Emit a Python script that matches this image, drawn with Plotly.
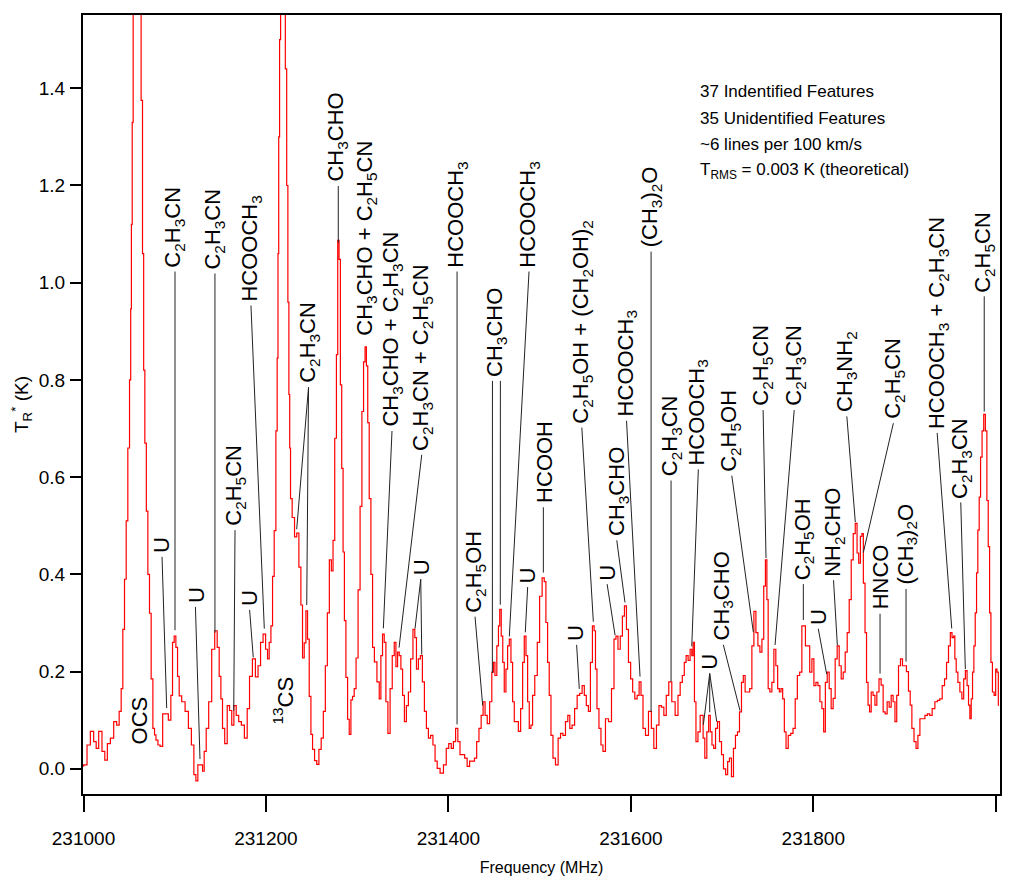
import numpy as np
import plotly.graph_objects as go

# ---------------- spectrum ----------------
freq_mhz = [
    230998.5, 231002.0, 231005.7, 231009.3, 231013.0, 231014.8, 231018.5, 231022.0, 231024.7, 231027.6,
    231031.3, 231034.9, 231037.8, 231040.4, 231042.2, 231044.0, 231045.9, 231047.7, 231049.5, 231051.4,
    231052.1, 231052.9, 231053.9, 231055.0, 231057.0, 231059.0, 231061.0, 231062.5, 231063.8, 231065.6,
    231066.3, 231068.2, 231069.6, 231071.5, 231073.2, 231075.1, 231077.0, 231078.7, 231080.2, 231083.0,
    231085.0, 231088.6, 231091.2, 231094.8, 231096.7, 231098.5, 231100.3, 231102.2, 231104.0, 231105.8,
    231109.5, 231113.2, 231116.8, 231119.7, 231122.3, 231124.1, 231126.6, 231129.6, 231131.4, 231133.2,
    231135.8, 231138.7, 231142.4, 231145.3, 231147.8, 231149.7, 231151.5, 231153.3, 231156.3, 231158.8,
    231161.4, 231163.6, 231166.1, 231168.7, 231171.6, 231174.5, 231178.2, 231180.7, 231183.3, 231187.0,
    231189.9, 231192.8, 231195.4, 231198.3, 231200.9, 231202.6, 231204.5, 231206.4, 231208.1, 231210.0,
    231211.8, 231212.8, 231213.6, 231214.4, 231215.5, 231216.6, 231218.5, 231220.5, 231222.0, 231223.5,
    231224.6, 231225.7, 231226.4, 231227.5, 231230.0, 231232.7, 231234.8, 231237.4, 231239.2, 231241.0,
    231242.9, 231244.7, 231246.5, 231248.4, 231250.2, 231252.0, 231254.6, 231256.8, 231259.3, 231261.8,
    231264.0, 231266.2, 231268.4, 231270.6, 231272.8, 231274.3, 231276.5, 231278.0, 231279.4, 231280.9,
    231282.3, 231283.8, 231285.3, 231286.7, 231288.6, 231290.4, 231292.2, 231294.1, 231295.8, 231297.7,
    231299.9, 231302.1, 231304.3, 231306.1, 231307.9, 231309.4, 231310.9, 231312.3, 231314.1, 231316.0,
    231317.8, 231320.0, 231323.3, 231325.1, 231326.9, 231328.7, 231330.6, 231332.4, 231335.0, 231337.2,
    231339.7, 231341.6, 231343.4, 231345.2, 231347.0, 231348.9, 231350.7, 231352.9, 231355.0, 231357.3,
    231359.9, 231362.4, 231364.0, 231366.0, 231368.2, 231370.4, 231372.6, 231374.8, 231377.0, 231379.2,
    231381.8, 231384.3, 231386.5, 231389.0, 231392.8, 231396.4, 231398.9, 231401.9, 231404.4, 231406.6,
    231409.2, 231411.5, 231413.9, 231416.5, 231419.1, 231422.0, 231424.5, 231427.4, 231429.8, 231432.2,
    231434.8, 231437.0, 231439.1, 231441.3, 231443.9, 231446.5, 231448.7, 231450.1, 231452.0, 231454.2,
    231455.6, 231457.0, 231458.9, 231460.3, 231462.2, 231464.0, 231465.8, 231467.7, 231469.5, 231471.3,
    231473.2, 231475.5, 231477.9, 231480.5, 231482.3, 231484.1, 231486.0, 231487.7, 231489.6, 231491.4,
    231493.2, 231496.2, 231498.7, 231501.3, 231504.2, 231505.9, 231507.9, 231509.6, 231511.5, 231513.4,
    231515.9, 231518.9, 231521.7, 231524.2, 231526.9, 231529.8, 231532.0, 231534.2, 231537.0, 231539.7,
    231542.6, 231545.2, 231548.0, 231550.0, 231552.4, 231554.6, 231556.8, 231559.0, 231560.5, 231562.0,
    231563.8, 231566.3, 231568.2, 231570.7, 231573.7, 231577.3, 231580.3, 231582.8, 231584.6, 231587.2,
    231589.6, 231591.9, 231594.1, 231596.3, 231598.5, 231601.1, 231602.9, 231605.8, 231608.0, 231610.2,
    231612.1, 231614.6, 231617.5, 231621.2, 231623.8, 231626.6, 231629.6, 231632.1, 231634.8, 231637.6,
    231640.1, 231643.1, 231646.7, 231650.4, 231653.0, 231655.2, 231657.7, 231659.5, 231661.7, 231663.9,
    231666.1, 231667.6, 231669.0, 231670.5, 231672.3, 231674.9, 231677.1, 231678.5, 231680.0, 231682.2,
    231684.4, 231686.2, 231688.0, 231689.9, 231691.8, 231693.9, 231696.1, 231698.3, 231700.5, 231702.6,
    231705.3, 231707.0, 231709.2, 231711.4, 231713.6, 231715.8, 231718.0, 231720.2, 231722.4, 231724.2,
    231726.4, 231729.0, 231731.6, 231733.8, 231736.0, 231738.2, 231740.4, 231742.6, 231744.8, 231746.6,
    231748.5, 231749.8, 231751.3, 231753.5, 231755.7, 231757.9, 231760.0, 231761.9, 231763.7, 231765.5,
    231767.4, 231769.2, 231771.1, 231774.0, 231776.5, 231779.1, 231781.3, 231783.8, 231786.4, 231788.6,
    231790.5, 231792.3, 231794.8, 231797.4, 231799.6, 231801.8, 231804.0, 231806.2, 231808.4, 231810.5,
    231812.3, 231814.2, 231816.4, 231818.5, 231820.7, 231822.9, 231825.1, 231827.3, 231829.5, 231831.7,
    231833.9, 231836.1, 231838.3, 231840.5, 231842.7, 231844.9, 231847.1, 231848.9, 231850.7, 231852.6,
    231854.0, 231855.8, 231857.7, 231859.1, 231861.0, 231862.4, 231864.6, 231866.6, 231868.6, 231870.8,
    231873.3, 231875.5, 231877.7, 231879.9, 231882.1, 231884.3, 231886.5, 231888.5, 231890.6, 231892.4,
    231894.5, 231896.7, 231898.9, 231901.1, 231903.2, 231905.5, 231907.0, 231909.2, 231911.7, 231913.6,
    231915.8, 231918.0, 231921.0, 231923.8, 231926.4, 231928.9, 231931.8, 231934.8, 231937.4, 231939.9,
    231942.8, 231945.0, 231947.2, 231949.3, 231951.2, 231953.0, 231954.5, 231955.9, 231957.5, 231959.6,
    231961.8, 231964.0, 231965.8, 231967.7, 231969.5, 231970.9, 231972.4, 231973.9, 231975.3, 231976.8,
    231978.3, 231979.7, 231981.1, 231982.7, 231984.1, 231986.0, 231987.7, 231989.6, 231991.0, 231992.6,
    231994.0, 231995.5, 231997.3, 231999.2, 232000.7, 232002.1, 232003.6,
]

tr_k = [
    0.006, 0.008, 0.049, 0.077, 0.056, 0.042, 0.077, 0.036, 0.018, 0.052,
    0.063, 0.097, 0.090, 0.118, 0.165, 0.287, 0.390, 0.510, 0.660, 0.800,
    0.946, 1.120, 1.330, 1.750, 2.300, 2.600, 2.400, 1.800, 1.375, 1.060,
    0.820, 0.670, 0.530, 0.400, 0.320, 0.185, 0.083, 0.070, 0.059, 0.049,
    0.046, 0.113, 0.113, 0.100, 0.151, 0.260, 0.273, 0.250, 0.190, 0.150,
    0.138, 0.118, 0.083, 0.049, -0.012, -0.025, 0.008, 0.008, -0.005, 0.036,
    0.083, 0.138, 0.246, 0.284, 0.250, 0.190, 0.144, 0.083, 0.052, 0.130,
    0.120, 0.090, 0.130, 0.110, 0.097, 0.090, 0.063, 0.124, 0.190, 0.226,
    0.189, 0.212, 0.260, 0.277, 0.246, 0.226, 0.260, 0.294, 0.396, 0.490,
    0.695, 0.845, 1.060, 1.300, 1.500, 1.900, 2.400, 2.200, 1.440, 1.200,
    0.960, 0.770, 0.660, 0.556, 0.517, 0.477, 0.485, 0.415, 0.337, 0.228,
    0.259, 0.325, 0.267, 0.149, 0.071, 0.040, 0.017, 0.009, 0.040, 0.063,
    0.118, 0.212, 0.321, 0.430, 0.407, 0.470, 0.680, 0.852, 1.087, 1.048,
    0.790, 0.618, 0.446, 0.305, 0.188, 0.102, 0.071, 0.142, 0.149, 0.165,
    0.228, 0.368, 0.540, 0.735, 0.837, 0.868, 0.829, 0.712, 0.556, 0.400,
    0.250, 0.220, 0.179, 0.144, 0.233, 0.277, 0.260, 0.138, 0.073, 0.165,
    0.233, 0.260, 0.210, 0.240, 0.233, 0.205, 0.151, 0.097, 0.130, 0.158,
    0.226, 0.287, 0.270, 0.205, 0.226, 0.233, 0.179, 0.118, 0.083, 0.063,
    0.069, 0.049, 0.016, 0.001, -0.009, 0.008, 0.042, 0.052, 0.042, 0.056,
    0.083, 0.056, 0.029, 0.029, 0.022, 0.005, 0.016, 0.016, 0.022, 0.056,
    0.083, 0.110, 0.138, 0.110, 0.093, 0.138, 0.199, 0.219, 0.192, 0.253,
    0.294, 0.328, 0.273, 0.219, 0.158, 0.205, 0.253, 0.267, 0.219, 0.138,
    0.097, 0.097, 0.077, 0.124, 0.219, 0.273, 0.233, 0.138, 0.083, 0.090,
    0.151, 0.192, 0.260, 0.355, 0.393, 0.385, 0.301, 0.219, 0.151, 0.069,
    0.022, 0.008, 0.063, 0.073, 0.069, 0.097, 0.110, 0.083, 0.090, 0.124,
    0.151, 0.155, 0.171, 0.151, 0.130, 0.118, 0.219, 0.294, 0.284, 0.205,
    0.124, 0.083, 0.049, 0.036, 0.103, 0.097, 0.165, 0.267, 0.273, 0.246,
    0.273, 0.314, 0.335, 0.287, 0.219, 0.185, 0.158, 0.144, 0.151, 0.179,
    0.151, 0.083, 0.069, 0.118, 0.083, 0.042, 0.090, 0.130, 0.127, 0.110,
    0.151, 0.179, 0.138, 0.110, 0.151, 0.178, 0.192, 0.219, 0.233, 0.223,
    0.246, 0.233, 0.260, 0.138, 0.056, 0.076, 0.110, 0.110, 0.063, 0.022,
    0.076, 0.110, 0.076, 0.049, 0.042, 0.083, 0.097, 0.056, 0.029, 0.000,
    -0.012, 0.015, 0.022, -0.016, 0.042, 0.069, 0.076, 0.117, 0.178, 0.192,
    0.158, 0.158, 0.165, 0.253, 0.324, 0.280, 0.253, 0.240, 0.267, 0.376,
    0.430, 0.348, 0.165, 0.158, 0.178, 0.246, 0.212, 0.165, 0.158, 0.165,
    0.144, 0.076, 0.042, 0.069, 0.073, 0.083, 0.144, 0.192, 0.199, 0.294,
    0.294, 0.253, 0.253, 0.199, 0.226, 0.171, 0.178, 0.171, 0.138, 0.124,
    0.076, 0.178, 0.199, 0.165, 0.124, 0.145, 0.226, 0.253, 0.212, 0.185,
    0.199, 0.240, 0.280, 0.348, 0.430, 0.484, 0.505, 0.444, 0.423, 0.478,
    0.484, 0.382, 0.280, 0.178, 0.131, 0.117, 0.158, 0.151, 0.131, 0.158,
    0.185, 0.172, 0.117, 0.113, 0.138, 0.127, 0.151, 0.138, 0.097, 0.151,
    0.212, 0.226, 0.212, 0.212, 0.200, 0.160, 0.131, 0.083, 0.056, 0.042,
    0.069, 0.103, 0.103, 0.110, 0.113, 0.110, 0.124, 0.138, 0.141, 0.144,
    0.171, 0.185, 0.219, 0.253, 0.280, 0.270, 0.273, 0.226, 0.199, 0.178,
    0.158, 0.144, 0.185, 0.202, 0.171, 0.131, 0.103, 0.144, 0.199, 0.253,
    0.321, 0.403, 0.491, 0.559, 0.641, 0.695, 0.729, 0.695, 0.552, 0.457,
    0.321, 0.219, 0.158, 0.151, 0.205, 0.199, 0.131,
]

# ---------------- line identifications ----------------
S = "<sub>%s</sub>"
label_text = [
    "OCS", "U", "C" + S % 2 + "H" + S % 3 + "CN", "U", "C" + S % 2 + "H" + S % 3 + "CN",
    "C" + S % 2 + "H" + S % 5 + "CN", "U", "HCOOCH" + S % 3, "<sup>13</sup>CS",
    "C" + S % 2 + "H" + S % 3 + "CN", "CH" + S % 3 + "CHO",
    "CH" + S % 3 + "CHO + C" + S % 2 + "H" + S % 5 + "CN",
    "CH" + S % 3 + "CHO + C" + S % 2 + "H" + S % 3 + "CN",
    "C" + S % 2 + "H" + S % 3 + "CN + C" + S % 2 + "H" + S % 5 + "CN",
    "U", "HCOOCH" + S % 3, "C" + S % 2 + "H" + S % 5 + "OH", "CH" + S % 3 + "CHO",
    "HCOOCH" + S % 3, "U", "HCOOH",
    "C" + S % 2 + "H" + S % 5 + "OH + (CH" + S % 2 + "OH)" + S % 2,
    "U", "HCOOCH" + S % 3, "U", "CH" + S % 3 + "CHO", "(CH" + S % 3 + ")" + S % 2 + "O",
    "C" + S % 2 + "H" + S % 3 + "CN", "HCOOCH" + S % 3, "C" + S % 2 + "H" + S % 5 + "OH",
    "C" + S % 2 + "H" + S % 5 + "CN", "C" + S % 2 + "H" + S % 3 + "CN", "CH" + S % 3 + "CHO",
    "U", "C" + S % 2 + "H" + S % 5 + "OH", "U", "NH" + S % 2 + "CHO", "CH" + S % 3 + "NH" + S % 2,
    "C" + S % 2 + "H" + S % 5 + "CN", "HNCO", "(CH" + S % 3 + ")" + S % 2 + "O",
    "HCOOCH" + S % 3 + " + C" + S % 2 + "H" + S % 3 + "CN", "C" + S % 2 + "H" + S % 3 + "CN",
    "C" + S % 2 + "H" + S % 5 + "CN",
]
label_freq = [
    231061.9, 231086.1, 231099.8, 231123.3, 231143.6, 231166.1, 231182.5, 231183.6, 231218.7,
    231247.2, 231277.9, 231309.7, 231338.2, 231371.1, 231370.0, 231409.5, 231429.2, 231452.7,
    231488.4, 231486.7, 231505.4, 231546.5, 231539.9, 231595.3, 231574.4, 231586.0, 231622.2,
    231644.1, 231673.7, 231708.8, 231743.8, 231780.0, 231701.1, 231686.8, 231789.9, 231806.3,
    231822.7, 231835.9, 231888.5, 231873.2, 231901.7, 231936.8, 231961.9, 231987.1,
]
label_base = [
    0.048, 0.442, 1.029, 0.339, 1.025, 0.497, 0.333, 0.959, 0.089,
    0.791, 1.205, 0.888, 0.701, 0.652, 0.396, 1.029, 0.319, 0.804,
    1.029, 0.380, 0.544, 0.708, 0.261, 0.722, 0.386, 0.476, 1.070,
    0.599, 0.622, 0.609, 0.744, 0.744, 0.261, 0.202, 0.386, 0.294,
    0.394, 0.731, 0.717, 0.325, 0.376, 0.697, 0.554, 0.978,
]
# leader lines: (start frequency at the label, frequency of the marked feature)
leader_start = [
    [], [231086.1], [231100.3], [231122.7], [231144.1], [231166.1], [231182.1], [231183.6], [],
    [231246.7, 231246.7], [231279.3], [], [231338.2], [231370.8], [231369.7, 231369.7], [231409.5],
    [231429.2], [231448.3, 231457.0], [231488.4], [231486.9], [231504.1], [231546.3], [231540.6],
    [231595.3], [231574.0], [231584.6], [231622.2], [231644.1], [231674.0], [231710.7], [231745.0],
    [231779.1], [231701.4], [231686.5, 231686.5, 231686.5], [231789.1], [231805.5], [231822.2],
    [231836.8], [231887.8], [231873.2], [231901.7], [231935.8], [231961.7], [231987.4],
]
leader_end = [
    [], [231091.2], [231100.3], [231127.7], [231144.1], [231164.7], [231186.1], [231198.2], [],
    [231233.7, 231244.7], [231279.3], [], [231328.7], [231345.9], [231363.4, 231370.8], [231409.5],
    [231437.6], [231448.2, 231456.9], [231466.8], [231484.3], [231504.1], [231558.9], [231543.5],
    [231610.1], [231582.7], [231593.6], [231622.2], [231644.1], [231666.8], [231734.3], [231748.2],
    [231758.1], [231719.7], [231679.5, 231686.5, 231694.2], [231789.1], [231814.7], [231826.4],
    [231846.1], [231854.9], [231873.2], [231901.7], [231951.8], [231966.7], [231987.4],
]

info_lines = [
    "37 Indentified Features",
    "35 Unidentified Features",
    "~6 lines per 100 km/s",
    "T<sub>RMS</sub> = 0.003 K (theoretical)",
]
info_y = [1.3933, 1.3381, 1.2849, 1.2296]

x_ticks = [231000, 231200, 231400, 231600, 231800, 232000]
y_ticks = [0.0, 0.2, 0.4, 0.6, 0.8, 1.0, 1.2, 1.4]

# ---------------- figure ----------------
REG = "Liberation Sans, Arial, sans-serif"

fx = np.array(freq_mhz)
fy = np.array(tr_k)

fig = go.Figure()
fig.add_trace(go.Scatter(
    x=fx, y=fy, mode="lines", line=dict(color="#ff0000", width=1.2, shape="hvh"),
    hoverinfo="skip", showlegend=False,
))

lx, ly = [], []
for base, starts, ends in zip(label_base, leader_start, leader_end):
    for s, e in zip(starts, ends):
        lx += [s, e, None]
        ly += [base - 0.006, float(np.interp(e, fx, fy)) + 0.012, None]
fig.add_trace(go.Scatter(
    x=lx, y=ly, mode="lines", line=dict(color="#222222", width=1),
    hoverinfo="skip", showlegend=False, connectgaps=False,
))

annotations = []
for t, f, b in zip(label_text, label_freq, label_base):
    annotations.append(dict(
        x=f, y=b, xref="x", yref="y", text=t, textangle=-90, showarrow=False,
        xanchor="center", yanchor="bottom", borderpad=0,
        font=dict(family=REG, size=22, color="#000000"),
    ))
for t, yv in zip(info_lines, info_y):
    annotations.append(dict(
        x=231673.6, y=yv, xref="x", yref="y", text=t,
        showarrow=False, xanchor="left", yanchor="middle", align="left",
        font=dict(family=REG, size=17, color="#000000"),
    ))

# the page body adds an 8 px offset; the figure is sized to fill the rest of the window
fig.update_layout(
    width=1017, height=871,
    margin=dict(l=75, r=25, t=5, b=83),
    paper_bgcolor="white", plot_bgcolor="white",
    annotations=annotations,
    showlegend=False,
)
fig.update_xaxes(
    range=[230999.45, 232004.7], tickvals=x_ticks, ticktext=[str(v) for v in x_ticks],
    showline=True, linecolor="black", linewidth=2, mirror=True,
    ticks="outside", ticklen=16, tickwidth=2, tickcolor="black",
    showgrid=False, zeroline=False, ticklabelstandoff=10,
    tickfont=dict(family=REG, size=19, color="#000000"),
    title=dict(text="Frequency (MHz)", font=dict(family=REG, size=16, color="#000000"), standoff=14),
)
fig.update_yaxes(
    range=[-0.0518, 1.5507], tickvals=y_ticks, ticktext=["%.1f" % v for v in y_ticks],
    showline=True, linecolor="black", linewidth=2, mirror=True,
    ticks="outside", ticklen=11, tickwidth=2, tickcolor="black",
    showgrid=False, zeroline=False, ticklabelstandoff=1,
    tickfont=dict(family=REG, size=19, color="#000000"),
    title=dict(text="T<sub>R</sub><sup>*</sup> (K)", font=dict(family=REG, size=19, color="#000000"), standoff=6),
)

fig.write_html("out.html")
